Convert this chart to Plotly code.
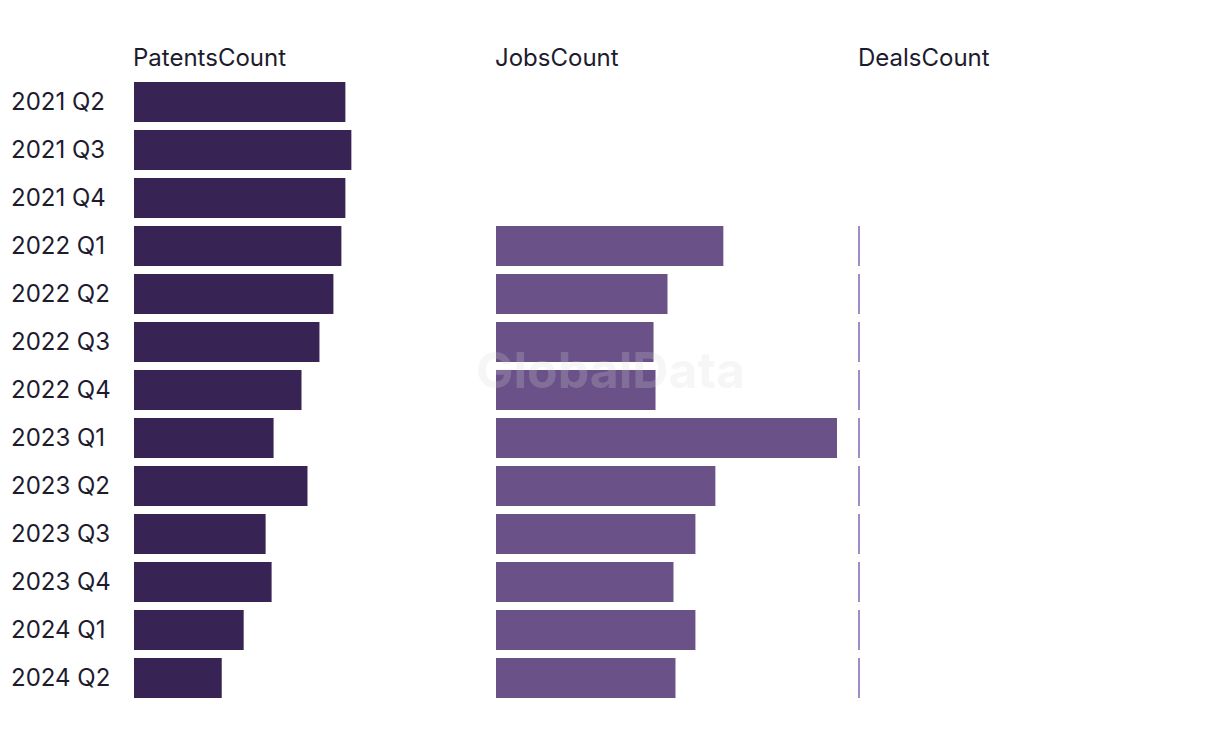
import plotly.graph_objects as go

quarters = ["2021 Q2", "2021 Q3", "2021 Q4", "2022 Q1", "2022 Q2", "2022 Q3", "2022 Q4",
            "2023 Q1", "2023 Q2", "2023 Q3", "2023 Q4", "2024 Q1", "2024 Q2"]
patents = [106, 109, 106, 104, 100, 93, 84, 70, 87, 66, 69, 55, 44]
jobs = [None, None, None, 114, 86, 79, 80, 171, 110, 100, 89, 100, 90]
deals = [None, None, None, 0, 0, 0, 0, 0, 0, 0, 0, 0, 0]
panel_titles = ["PatentsCount", "JobsCount", "DealsCount"]

# page has an 8px body margin, so the figure is sized to fit inside 1220x740
W, H = 1204, 724
FONT = "Inter, Liberation Sans, sans-serif"
TXT = "#1d1b2e"
FS = 24

fig = go.Figure()
fig.add_trace(go.Bar(y=quarters, x=patents, orientation="h", xaxis="x", yaxis="y",
                     marker=dict(color="#382454", line=dict(width=0)), hoverinfo="x+y"))
fig.add_trace(go.Bar(y=quarters, x=jobs, orientation="h", xaxis="x2", yaxis="y2",
                     marker=dict(color="#6a5289", line=dict(width=0)), hoverinfo="x+y"))
fig.add_trace(go.Scatter(y=quarters, x=deals, mode="markers", xaxis="x3", yaxis="y3",
                         marker=dict(symbol="line-ns", size=40 / 1.4, color="#a08ac8",
                                     line=dict(width=2, color="#a08ac8")),
                         hoverinfo="x+y", cliponaxis=False))

xr = [0, 171.5]
yr = [len(quarters) - 0.5, -0.5]
doms = [[126 / W, 468 / W], [488 / W, 830 / W], [851 / W, 1193 / W]]
common_x = dict(range=xr, showgrid=False, zeroline=False, showticklabels=False,
                showline=False, ticks="", fixedrange=True)
common_y = dict(categoryorder="array", categoryarray=quarters, range=yr, type="category",
                showgrid=False, zeroline=False, showline=False, fixedrange=True,
                showticklabels=False, ticks="")

fig.update_layout(
    width=W, height=H,
    margin=dict(l=0, r=0, t=70, b=30),
    paper_bgcolor="white", plot_bgcolor="white",
    showlegend=False, bargap=1 / 6,
    font=dict(family=FONT, color=TXT, size=FS),
    xaxis=dict(domain=doms[0], anchor="y", **common_x),
    xaxis2=dict(domain=doms[1], anchor="y2", **common_x),
    xaxis3=dict(domain=doms[2], anchor="y3", **common_x),
    yaxis=dict(anchor="x", **common_y),
    yaxis2=dict(anchor="x2", **common_y),
    yaxis3=dict(anchor="x3", **common_y),
)

# left-aligned category labels
for q in quarters:
    fig.add_annotation(text=q, xref="paper", yref="y", x=1 / W, y=q, xanchor="left",
                       yshift=1, showarrow=False, font=dict(size=FS, color=TXT, family=FONT))

for i, t in enumerate(panel_titles):
    fig.add_annotation(text=t, xref="paper", yref="paper", x=doms[i][0], y=1,
                       xanchor="left", yanchor="bottom", yshift=4, xshift=-3,
                       showarrow=False, font=dict(size=FS, color=TXT, family=FONT))

fig.add_annotation(text="<b>GlobalData</b>", xref="paper", yref="paper", x=0.5, y=0.5,
                   yshift=20, showarrow=False,
                   font=dict(size=50, color="rgba(215,215,215,0.22)", family=FONT))

fig.write_html("out.html")
